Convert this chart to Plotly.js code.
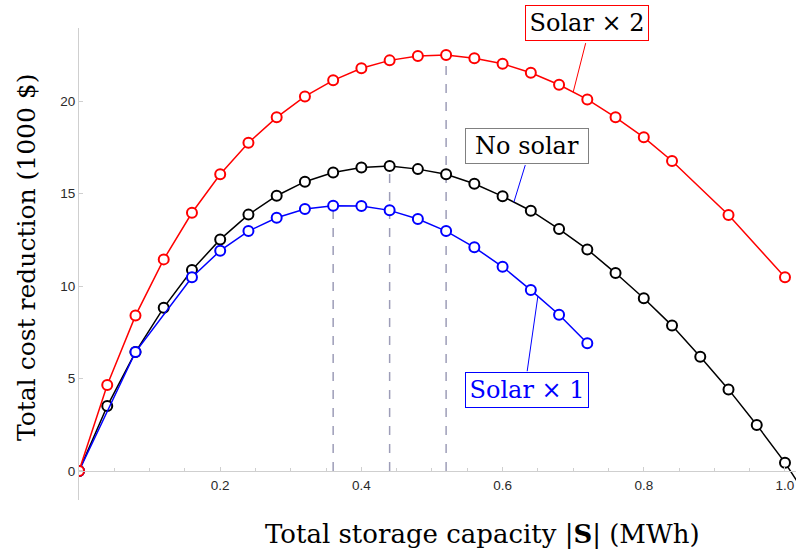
<!DOCTYPE html>
<html>
<head>
<meta charset="utf-8">
<script src="https://cdn.plot.ly/plotly-3.0.1.min.js"></script>
<style>html,body{margin:0;padding:0;background:#fff;}#chart{width:796px;height:549px;}</style>
</head>
<body>
<div id="chart"></div>
<script>
// ---- data ----
const xNoSolar = [0,0.04,0.08,0.12,0.16,0.20,0.24,0.28,0.32,0.36,0.40,0.44,0.48,0.52,0.56,0.60,0.64,0.68,0.72,0.76,0.80,0.84,0.88,0.92,0.96,1.00,1.04];
const yNoSolar = [0,3.51,6.43,8.83,10.86,12.52,13.86,14.88,15.64,16.14,16.41,16.49,16.32,16.04,15.53,14.85,14.07,13.08,11.98,10.70,9.34,7.86,6.18,4.41,2.49,0.45,-1.9];

const xSolar1 = [0,0.08,0.16,0.20,0.24,0.28,0.32,0.36,0.40,0.44,0.48,0.52,0.56,0.60,0.64,0.68,0.72];
const ySolar1 = [0,6.43,10.47,11.91,12.97,13.69,14.16,14.34,14.33,14.09,13.62,12.97,12.09,11.04,9.78,8.45,6.90];

const xSolar2 = [0,0.04,0.08,0.12,0.16,0.20,0.24,0.28,0.32,0.36,0.40,0.44,0.48,0.52,0.56,0.60,0.64,0.68,0.72,0.76,0.80,0.84,0.92,1.00];
const ySolar2 = [0,4.65,8.40,11.44,13.96,16.04,17.75,19.12,20.25,21.12,21.77,22.20,22.43,22.49,22.31,22.02,21.53,20.88,20.09,19.12,18.04,16.76,13.84,10.47];

const xTickVals = [0.2,0.4,0.6,0.8,1.0];
const xTickText = ['0.2','0.4','0.6','0.8','1.0'];
const yTickVals = [0,5,10,15,20];

const labelSolar2 = 'Solar × 2';
const labelNoSolar = 'No solar';
const labelSolar1 = 'Solar × 1';
const xTitle = 'Total storage capacity |<b>S</b>| (MWh)';
const yTitle = 'Total cost reduction (1000 $)';

// ---- helpers ----
function peak(xs, ys){ let k=0; ys.forEach((v,i)=>{ if(v>ys[k]) k=i; }); return [xs[k], ys[k]]; }
function interp(xs, ys, x){
  for(let i=0;i<xs.length-1;i++){ if(x>=xs[i] && x<=xs[i+1]){ const t=(x-xs[i])/(xs[i+1]-xs[i]); return ys[i]+t*(ys[i+1]-ys[i]); } }
  return ys[ys.length-1];
}

const yMin = -1.57, yMax = 23.95;
const serif = 'DejaVu Serif';

const dashColor = '#9d9db8';
const traces = [];
[[xSolar1,ySolar1],[xNoSolar,yNoSolar],[xSolar2,ySolar2]].forEach(([xs,ys])=>{
  const p = peak(xs,ys);
  traces.push({x:[p[0],p[0]], y:[0,p[1]], mode:'lines', line:{color:dashColor, width:1.5, dash:'dash'}, hoverinfo:'skip'});
});
function series(xs, ys, color, name){
  return {x:xs, y:ys, name:name, mode:'lines+markers', line:{color:color, width:1.5},
    marker:{symbol:'circle', size:10, color:'#ffffff', line:{color:color, width:2}}, cliponaxis:true};
}
traces.push(series(xNoSolar, yNoSolar, '#000000', labelNoSolar));
traces.push(series(xSolar1, ySolar1, '#0000ff', labelSolar1));
traces.push(series(xSolar2, ySolar2, '#ff0000', labelSolar2));

function box(text, px, py, color, border){
  return {text:text, xref:'paper', yref:'paper', x:px, y:py, xanchor:'center', yanchor:'middle', showarrow:false,
    font:{family:serif, size:24, color:color}, bgcolor:'#ffffff', bordercolor:border, borderwidth:1, borderpad:2,
    width:118, height:30};
}
function pointer(xs, ys, x, ax, ay, color){
  return {text:' ', xref:'x', yref:'y', x:x, y:interp(xs,ys,x), ax:ax, ay:ay, showarrow:true, arrowhead:0,
    arrowwidth:1, arrowcolor:color, standoff:0, startstandoff:0, font:{size:1}};
}

const layout = {
  width:796, height:549,
  margin:{l:79, r:0, t:28, b:49, pad:0},
  paper_bgcolor:'#ffffff', plot_bgcolor:'#ffffff',
  showlegend:false,
  xaxis:{range:[0,1.0156], anchor:'free', position:(0-yMin)/(yMax-yMin),
    showline:true, linecolor:'#cfcfcf', linewidth:1, showgrid:false, zeroline:false,
    tickmode:'array', tickvals:xTickVals, ticktext:xTickText, ticks:'inside', ticklen:4, tickcolor:'#cfcfcf',
    minor:{tickmode:'linear', tick0:0, dtick:0.05, ticks:'inside', ticklen:3, tickcolor:'#cfcfcf'},
    tickfont:{family:'Liberation Sans', size:13.5, color:'#2a2a2a'}, ticklabelstandoff:2},
  yaxis:{range:[yMin,yMax], showline:true, linecolor:'#cfcfcf', linewidth:1, showgrid:false, zeroline:false,
    tickmode:'array', tickvals:yTickVals, ticks:'inside', ticklen:4, tickcolor:'#cfcfcf',
    tickfont:{family:'Liberation Sans', size:13.5, color:'#2a2a2a'}},
  annotations:[
    box(labelSolar2, 0.7085, 1.0109, '#000000', '#ff0000'),
    box(labelNoSolar, 0.6245, 0.7504, '#000000', '#808080'),
    box(labelSolar1, 0.6246, 0.2331, '#0000ff', '#0000ff'),
    pointer(xSolar2, ySolar2, 0.70, 13, -51, '#ff0000'),
    pointer(xNoSolar, yNoSolar, 0.616, 12, -39, '#0000ff'),
    pointer(xSolar1, ySolar1, 0.65, -11, 77, '#0000ff'),
    {text:xTitle, xref:'paper', yref:'paper', x:(482-79)/717, y:(500-534)/472, xanchor:'center', yanchor:'middle',
     showarrow:false, font:{family:serif, size:26, color:'#000000'}},
    {text:yTitle, xref:'paper', yref:'paper', x:(26-79)/717, y:(500-257)/472, xanchor:'center', yanchor:'middle',
     textangle:-90, showarrow:false, font:{family:serif, size:25, color:'#000000'}}
  ]
};

Plotly.newPlot('chart', traces, layout, {staticPlot:true, displayModeBar:false});
</script>
</body>
</html>
